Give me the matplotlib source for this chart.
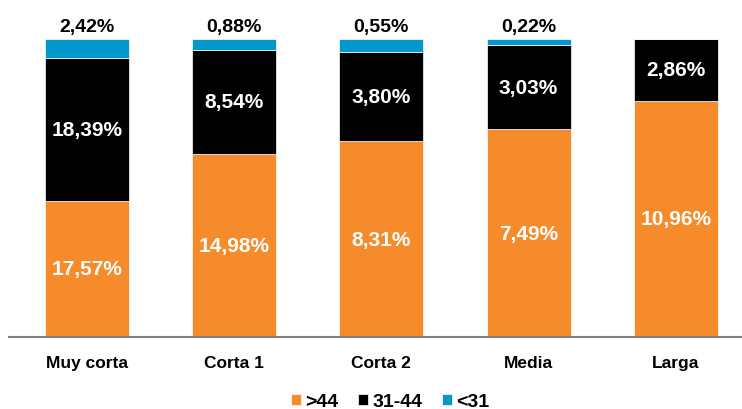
import numpy as np
import matplotlib.pyplot as plt

plt.rcParams['font.family'] = ['Liberation Sans', 'DejaVu Sans']

categories = ['Muy corta', 'Corta 1', 'Corta 2', 'Media', 'Larga']
gt44 = [17.57, 14.98, 8.31, 7.49, 10.96]
mid = [18.39, 8.54, 3.80, 3.03, 2.86]
lt31 = [2.42, 0.88, 0.55, 0.22, 0.0]
series_names = ['>44', '31-44', '<31']
colors = ['#F68B2C', '#000000', '#0497C9']

def fmt(v):
    return f'{v:.2f}%'.replace('.', ',')

raw = np.array([gt44, mid, lt31])
share = raw / raw.sum(axis=0)

fig = plt.figure(figsize=(7.42, 4.10), dpi=100)
ax = fig.add_axes([9 / 742, 72 / 410, 733 / 742, 298 / 410])

x = np.arange(len(categories))
bottom = np.zeros(len(categories))
bars = []
for i in range(3):
    b = ax.bar(x, share[i], 0.57, bottom=bottom, color=colors[i], label=series_names[i],
               edgecolor='white', linewidth=0.5)
    bars.append(b)
    for j in range(len(categories)):
        if raw[i, j] <= 0:
            continue
        if i == 2:
            ax.text(x[j], 1.012, fmt(raw[i, j]), ha='center', va='bottom',
                    fontsize=14, fontweight='bold', color='black', clip_on=False)
        else:
            ax.text(x[j], bottom[j] + share[i, j] / 2, fmt(raw[i, j]), ha='center', va='center',
                    fontsize=15, fontweight='bold', color='white')
    bottom += share[i]

ax.set_xlim(-0.53, 4.45)
ax.set_ylim(0, 1)
ax.set_yticks([])
ax.set_xticks(x)
ax.set_xticklabels(categories, fontsize=12.5, fontweight='bold')
ax.tick_params(axis='x', length=0, pad=13)
for s in ['top', 'right', 'left']:
    ax.spines[s].set_visible(False)
ax.spines['bottom'].set_color('#808080')
ax.spines['bottom'].set_linewidth(1.5)

leg = fig.legend(handles=bars, labels=series_names, loc='center', bbox_to_anchor=(390 / 742, 7 / 410),
                 ncol=3, frameon=False, handlelength=0.55, handleheight=0.55, handletextpad=0.2,
                 columnspacing=1.0, prop={'weight': 'bold', 'size': 14})

fig.savefig('out.png', dpi=100)
